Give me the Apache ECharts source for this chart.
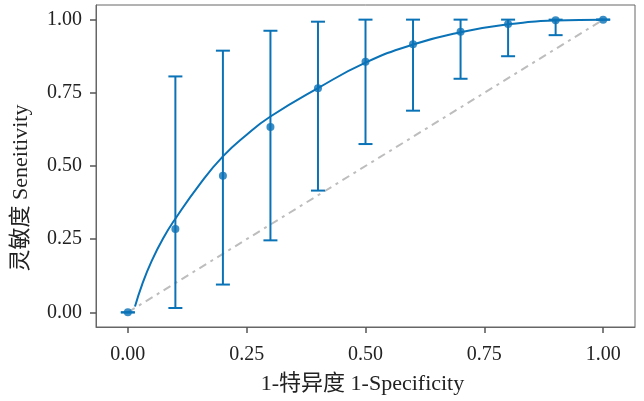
<!DOCTYPE html>
<html>
<head>
    <meta charset="utf-8">
    <title>ROC</title>
    <script src="https://cdn.jsdelivr.net/npm/echarts@6/dist/echarts.min.js"></script>
    <style>
        html, body { margin: 0; padding: 0; background: #fff; }
        #roc { width: 644px; height: 401px; }
    </style>
</head>
<body>
<div id="roc"></div>
<script>
    // observed points (1-specificity, sensitivity) with CI
    var fpr = [0, 0.1, 0.2, 0.3, 0.4, 0.5, 0.6, 0.7, 0.8, 0.9, 1.0];
    var sens = [0, 0.285, 0.467, 0.633, 0.766, 0.856, 0.916, 0.959, 0.985, 0.998, 1.0];
    var lower = [0, 0.015, 0.095, 0.246, 0.416, 0.575, 0.689, 0.798, 0.875, 0.947, 1.0];
    var upper = [0, 0.806, 0.894, 0.962, 0.993, 1.0, 1.0, 1.0, 1.0, 1.0, 1.0];
    // fitted curve
    var curveX = [0.015, 0.03, 0.05, 0.075, 0.1, 0.15, 0.2, 0.25, 0.3, 0.4, 0.5, 0.6, 0.7, 0.8, 0.9, 1.0];
    var curveY = [0.02, 0.095, 0.175, 0.255, 0.32, 0.435, 0.533, 0.607, 0.669, 0.766, 0.853, 0.915, 0.957, 0.984, 0.997, 1.0];
    var ticks = [0, 0.25, 0.5, 0.75, 1];

    var blue = '#0a72b6';
    var font = '"Liberation Serif", "Noto Sans CJK SC", serif';

    var pts = fpr.map(function (x, i) { return [x, sens[i]]; });
    var bars = fpr.map(function (x, i) { return [x, lower[i], upper[i]]; });
    var curve = curveX.map(function (x, i) { return [x, curveY[i]]; });

    var chart = echarts.init(document.getElementById('roc'));
    chart.setOption({
        animation: false,
        grid: {
            left: 96, right: 9, top: 5, bottom: 74,
            show: true, borderColor: '#666', borderWidth: 1
        },
        xAxis: {
            type: 'value', min: -0.067, max: 1.067,
            name: '1-特异度 1-Specificity', nameLocation: 'middle', nameGap: 46,
            nameTextStyle: { fontFamily: font, fontSize: 22, color: '#222', padding: [0, 6, 0, 0] },
            splitLine: { show: false },
            axisLine: { show: true, onZero: false, lineStyle: { color: '#666', width: 1 } },
            axisTick: { show: true, length: 6, customValues: ticks, lineStyle: { color: '#555', width: 1.5 } },
            axisLabel: {
                customValues: ticks, margin: 18, fontFamily: font, fontSize: 20, color: '#222',
                formatter: function (v) { return v.toFixed(2); }
            }
        },
        yAxis: {
            type: 'value', min: -0.05, max: 1.05,
            name: '灵敏度 Seneitivity', nameLocation: 'middle', nameGap: 64,
            nameTextStyle: { fontFamily: font, fontSize: 22, color: '#222', padding: [0, 44, 0, 0] },
            splitLine: { show: false },
            axisLine: { show: true, onZero: false, lineStyle: { color: '#666', width: 1 } },
            axisTick: { show: true, length: 6, customValues: ticks, lineStyle: { color: '#555', width: 1.5 } },
            axisLabel: {
                customValues: ticks, margin: 14, fontFamily: font, fontSize: 20, color: '#222',
                formatter: function (v) { return v.toFixed(2); }
            }
        },
        series: [
            {
                type: 'line',
                data: [[0, 0], [1, 1]],
                symbol: 'none',
                lineStyle: { color: '#bdbdbd', width: 2, type: [8, 5, 3, 5] },
                z: 1
            },
            {
                type: 'line',
                data: curve,
                smooth: 0.5,
                symbol: 'none',
                lineStyle: { color: blue, width: 2 },
                z: 2
            },
            {
                type: 'custom',
                data: bars,
                z: 3,
                renderItem: function (params, api) {
                    var x = api.value(0);
                    var lo = api.coord([x, api.value(1)]);
                    var hi = api.coord([x, api.value(2)]);
                    var w = 7;
                    var style = { stroke: blue, lineWidth: 2, fill: null };
                    return {
                        type: 'group',
                        children: [
                            { type: 'line', shape: { x1: lo[0], y1: lo[1], x2: hi[0], y2: hi[1] }, style: style },
                            { type: 'line', shape: { x1: lo[0] - w, y1: lo[1], x2: lo[0] + w, y2: lo[1] }, style: style },
                            { type: 'line', shape: { x1: hi[0] - w, y1: hi[1], x2: hi[0] + w, y2: hi[1] }, style: style }
                        ]
                    };
                }
            },
            {
                type: 'scatter',
                data: pts,
                symbolSize: 8,
                itemStyle: { color: blue },
                z: 4
            }
        ]
    });
</script>
</body>
</html>
